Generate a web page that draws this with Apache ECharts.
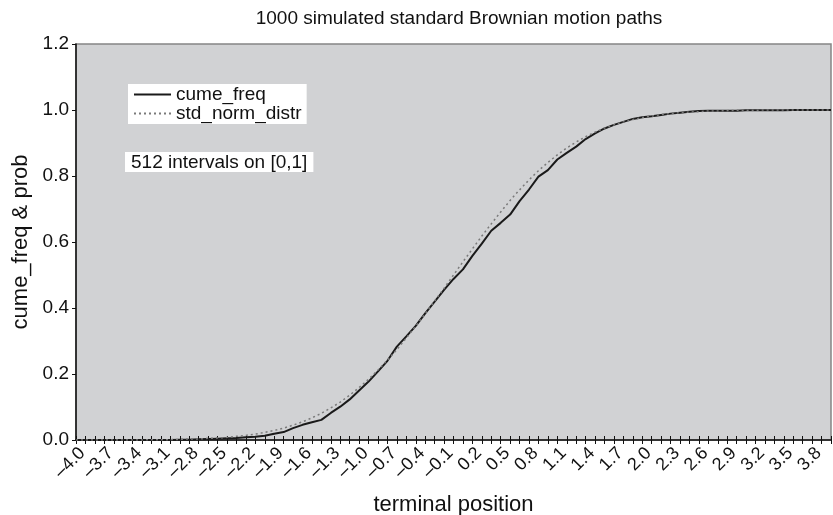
<!DOCTYPE html>
<html>
<head>
<meta charset="utf-8">
<script src="https://cdn.jsdelivr.net/npm/echarts@6/dist/echarts.min.js"></script>
<style>html,body{margin:0;padding:0;background:#fff;}#c{width:833px;height:515px;}</style>
</head>
<body>
<div id="c"></div>
<script>
var categories = ["–4.0","–3.9","–3.8","–3.7","–3.6","–3.5","–3.4","–3.3","–3.2","–3.1",
"–3.0","–2.9","–2.8","–2.7","–2.6","–2.5","–2.4","–2.3","–2.2","–2.1",
"–2.0","–1.9","–1.8","–1.7","–1.6","–1.5","–1.4","–1.3","–1.2","–1.1",
"–1.0","–0.9","–0.8","–0.7","–0.6","–0.5","–0.4","–0.3","–0.2","–0.1",
"0.0","0.1","0.2","0.3","0.4","0.5","0.6","0.7","0.8","0.9",
"1.0","1.1","1.2","1.3","1.4","1.5","1.6","1.7","1.8","1.9",
"2.0","2.1","2.2","2.3","2.4","2.5","2.6","2.7","2.8","2.9",
"3.0","3.1","3.2","3.3","3.4","3.5","3.6","3.7","3.8","3.9","4.0"];

var cumeFreq = [0,0,0,0,0,0,0,0,0,0,
0,0.001,0.001,0.002,0.003,0.004,0.005,0.006,0.008,0.010,
0.013,0.019,0.024,0.036,0.046,0.054,0.061,0.082,0.101,0.123,
0.150,0.177,0.208,0.240,0.283,0.314,0.346,0.384,0.419,0.455,
0.488,0.517,0.558,0.595,0.634,0.658,0.683,0.724,0.759,0.798,
0.818,0.850,0.870,0.889,0.912,0.929,0.944,0.955,0.964,0.973,
0.978,0.981,0.985,0.989,0.992,0.995,0.997,0.998,0.998,0.998,
0.998,0.999,0.999,0.999,0.999,0.999,1.000,1.000,1.000,1.000,1.000];

var stdNormDistr = [0,0,0,0,0,0,0,0,0.001,0.001,
0.001,0.002,0.003,0.003,0.005,0.006,0.008,0.011,0.014,0.018,
0.023,0.029,0.036,0.045,0.055,0.067,0.081,0.097,0.115,0.136,
0.159,0.184,0.212,0.242,0.274,0.309,0.345,0.382,0.421,0.460,
0.500,0.540,0.579,0.618,0.655,0.691,0.726,0.758,0.788,0.816,
0.841,0.864,0.885,0.903,0.919,0.933,0.945,0.955,0.964,0.971,
0.977,0.982,0.986,0.989,0.992,0.994,0.995,0.997,0.997,0.998,
0.999,0.999,0.999,1.000,1.000,1.000,1.000,1.000,1.000,1.000,1.000];

var seriesNames = ["cume_freq", "std_norm_distr"];
var yTicks = [0, 0.2, 0.4, 0.6, 0.8, 1.0, 1.2];
var labelEvery = 3;

var FONT = "Liberation Sans";
var FS = 19;
var chart = echarts.init(document.getElementById('c'), null, {renderer: 'canvas'});
chart.setOption({
  animation: false,
  backgroundColor: '#ffffff',
  textStyle: {fontFamily: FONT},
  title: [
    {text: "1000 simulated standard Brownian motion paths", left: 454, top: 4, textAlign: 'center',
     textStyle: {fontFamily: FONT, fontSize: FS, fontWeight: 'normal', color: '#111'}},
    {text: "512 intervals on [0,1]", left: 125, top: 152, padding: [1, 6, 0, 6],
     backgroundColor: '#ffffff',
     textStyle: {fontFamily: FONT, fontSize: FS, fontWeight: 'normal', color: '#111', lineHeight: 19}}
  ],
  legend: {
    orient: 'vertical', left: 128, top: 84, padding: [1, 5, 1, 5], itemGap: 0,
    itemWidth: 37, itemHeight: 18, backgroundColor: '#ffffff',
    itemStyle: {opacity: 0, color: 'transparent', borderWidth: 0},
    textStyle: {fontFamily: FONT, fontSize: FS, color: '#111', lineHeight: 18},
    data: seriesNames
  },
  grid: {left: 76, right: 2, top: 44, bottom: 75, show: true, containLabel: false,
         outerBoundsMode: 'none',
         backgroundColor: '#d1d2d4', borderColor: '#858585', borderWidth: 1.5},
  xAxis: [{
    type: 'category', data: categories, boundaryGap: false,
    name: 'terminal position', nameLocation: 'middle', nameGap: 54,
    nameTextStyle: {fontFamily: FONT, fontSize: 22, color: '#111'},
    axisLine: {lineStyle: {color: '#111', width: 1.5}},
    axisTick: {show: true, interval: 0, length: 4, lineStyle: {color: '#111'}},
    axisLabel: {interval: function (i) { return i % labelEvery === 0; },
                rotate: 45, align: 'right', verticalAlign: 'top',
                fontFamily: FONT, fontSize: 18, color: '#111', margin: 4},
    splitLine: {show: false}
  }, {
    type: 'category', data: categories, boundaryGap: false, position: 'bottom',
    axisLine: {show: false},
    axisTick: {show: true, inside: true, interval: 0, length: 4, lineStyle: {color: '#111'}},
    axisLabel: {show: false}, splitLine: {show: false}
  }],
  yAxis: {
    type: 'value', min: yTicks[0], max: yTicks[yTicks.length - 1], interval: 0.2,
    name: 'cume_freq & prob', nameLocation: 'middle', nameGap: 42,
    nameTextStyle: {fontFamily: FONT, fontSize: 22, color: '#111'},
    axisLine: {show: true, lineStyle: {color: '#111', width: 1.5}},
    axisTick: {show: true, length: 4, lineStyle: {color: '#111'}},
    axisLabel: {fontFamily: FONT, fontSize: FS, color: '#111', margin: 7,
                formatter: function (v) { return v.toFixed(1); }},
    splitLine: {show: false}
  },
  series: [
    {name: seriesNames[0], type: 'line', data: cumeFreq, symbol: 'none',
     lineStyle: {color: '#1a1a1a', width: 2}, itemStyle: {color: '#1a1a1a'}, z: 3},
    {name: seriesNames[1], type: 'line', data: stdNormDistr, symbol: 'none',
     lineStyle: {color: '#7a7a7a', width: 1.5, type: [2, 3]}, itemStyle: {color: '#7a7a7a'}, z: 4}
  ]
});
</script>
</body>
</html>
